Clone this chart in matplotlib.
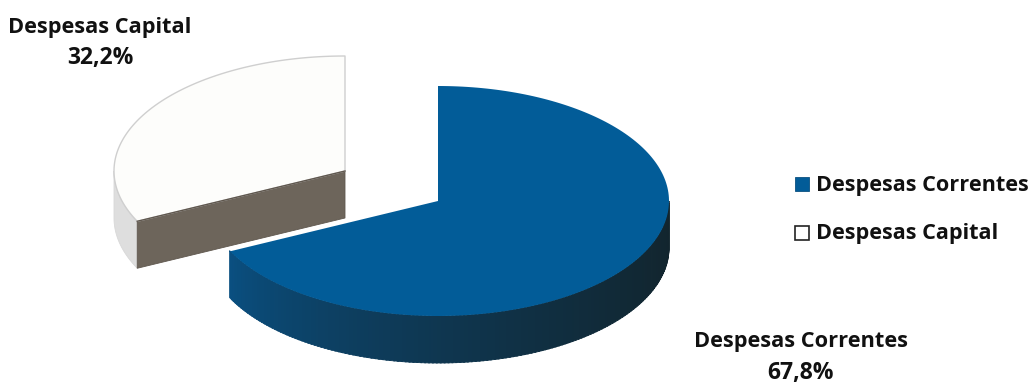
import numpy as np
import matplotlib
matplotlib.use("Agg")
import matplotlib.pyplot as plt
from matplotlib.colors import to_rgb
from matplotlib.patches import Polygon, Rectangle

categories = ["Despesas Correntes", "Despesas Capital"]
shares = [67.8, 32.2]
share_labels = ["67,8%", "32,2%"]

W, H = 1032, 385
fig = plt.figure(figsize=(W / 100, H / 100), dpi=100)
ax = fig.add_axes([0, 0, 1, 1])
ax.set_xlim(0, W)
ax.set_ylim(H, 0)
ax.axis("off")

RX, RY, DEPTH = 231, 115, 47
split = shares[0] / sum(shares) * 2 * np.pi


def pt(cx, cy, t):
    # t measured clockwise from the top of the pie
    return cx + RX * np.sin(t), cy - RY * np.cos(t)


def arc(cx, cy, t0, t1, n=200):
    return np.column_stack(pt(cx, cy, np.linspace(t0, t1, n)))


def mix(a, b, f):
    a, b = np.array(to_rgb(a)), np.array(to_rgb(b))
    return tuple(a + (b - a) * f)


# Capital slice (pulled away, up and to the left)
cx2, cy2 = 345, 171
t0, t1 = split, 2 * np.pi
edge = arc(cx2, cy2, t0, t1)
# outer rim, visible only on the left
rim_end = 3 * np.pi / 2
rim = arc(cx2, cy2, t0, rim_end, 60)
rim_poly = np.vstack([rim, rim[::-1] + [0, DEPTH]])
ax.add_patch(Polygon(rim_poly, closed=True, fc="#dedede", ec="#d8d8d8", lw=0.6))
# cut face toward the viewer
c = pt(cx2, cy2, t0)
face = [c, (cx2, cy2), (cx2, cy2 + DEPTH), (c[0], c[1] + DEPTH)]
ax.add_patch(Polygon(face, closed=True, fc="#6d655b", ec="#5f574e", lw=0.6))
# top
ax.add_patch(Polygon(np.vstack([[cx2, cy2], edge]), closed=True,
                     fc="#fdfdfb", ec="#cfcfcf", lw=1.0, joinstyle="round"))
ax.plot([c[0], cx2], [c[1], cy2], color="#5f574e", lw=1.0)

# Correntes slice
cx1, cy1 = 438, 201
t0, t1 = 0.0, split
# rim with shading: dark near the right, blue at the far left
ts = np.linspace(np.pi / 2, t1, 160)
for a, b in zip(ts[:-1], ts[1:]):
    m = (a + b) / 2
    f = (m - np.pi / 2) / (t1 - np.pi / 2)
    col = mix("#12252e", "#0a4f80", min(1, f ** 1.6))
    seg = arc(cx1, cy1, a, b + 0.006, 4)
    ax.add_patch(Polygon(np.vstack([seg, seg[::-1] + [0, DEPTH]]),
                         closed=True, fc=col, ec=col, lw=0.6))
ax.add_patch(Polygon(np.vstack([[cx1, cy1], arc(cx1, cy1, t0, t1)]), closed=True,
                     fc="#025c98", ec="none"))

# Legend
ax.add_patch(Rectangle((795, 177), 14, 14, fc="#025c98", ec="#0a5080", lw=0.6))
ax.add_patch(Rectangle((795, 226), 14, 14, fc="white", ec="#222222", lw=1.2))
font = dict(family="Open Sans", weight="bold", color="#111111")
ax.text(816, 185, categories[0], fontsize=15.6, va="center", ha="left", **font)
ax.text(816, 233, categories[1], fontsize=15.6, va="center", ha="left", **font)

# Data labels
ax.text(801, 342, categories[0], fontsize=15.7, va="center", ha="center", **font)
ax.text(801, 373, share_labels[0], fontsize=16.5, va="center", ha="center", **font)
ax.text(100, 27, categories[1], fontsize=15.7, va="center", ha="center", **font)
ax.text(100, 58, share_labels[1], fontsize=16.5, va="center", ha="center", **font)

fig.savefig("out.png", dpi=100, facecolor="white")
